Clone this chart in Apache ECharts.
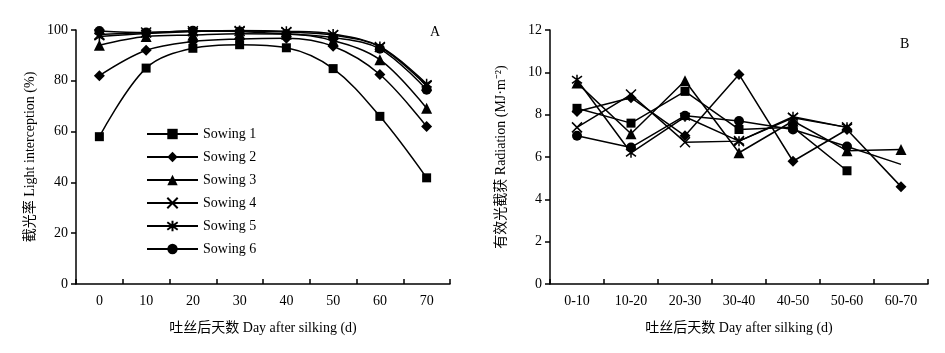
<!DOCTYPE html>
<html><head><meta charset="utf-8">
<script src="https://cdn.jsdelivr.net/npm/echarts@6/dist/echarts.min.js"></script>
<style>html,body{margin:0;padding:0;background:#fff}#c{width:945px;height:353px}</style>
</head><body><div id="c"></div>
<script>
const daysA = ['0','10','20','30','40','50','60','70'];
const periodsB = ['0-10','10-20','20-30','30-40','40-50','50-60','60-70'];
const seriesNames = ['Sowing 1','Sowing 2','Sowing 3','Sowing 4','Sowing 5','Sowing 6'];
// Panel A: light interception (%)
const intercept1 = [58, 85, 92.8, 94.2, 93, 84.8, 66, 41.8];
const intercept2 = [82, 92, 95.5, 96.5, 96.8, 93.6, 82.5, 62];
const intercept3 = [94, 97.4, 98, 98.5, 98.4, 95.8, 88.3, 69.2];
const intercept4 = [98.2, 99, 99.5, 99.6, 99.2, 98, 93.3, 78];
const intercept5 = [97.4, 98.6, 99.4, 99.8, 99.5, 98.4, 93.5, 78.8];
const intercept6 = [99.6, 99, 99.7, 99.4, 98.4, 97, 92.6, 76.5];
// Panel B: intercepted PAR (MJ·m-2)
const rad1 = [8.3, 7.6, 9.1, 7.3, 7.4, 5.35, null];
const rad2 = [8.15, 8.8, 7.0, 9.9, 5.8, 7.3, 4.6];
const rad3 = [9.5, 7.1, 9.6, 6.2, 7.7, 6.3, 6.35];
const rad4 = [7.4, 8.95, 6.7, 6.75, 7.85, 7.4, null];
const rad5 = [9.65, 6.2, 7.9, 6.75, 7.9, 7.4, null];
const rad6 = [7.0, 6.45, 7.95, 7.7, 7.3, 6.5, 5.65];
const yTicksA = [0,20,40,60,80,100];
const yTicksB = [0,2,4,6,8,10,12];

const FONT = '"Liberation Serif","Noto Sans CJK SC",serif';
const XSYM = 'path://M0,0L10,10M10,0L0,10';
const ASYM = 'path://M0,0L10,10M10,0L0,10M5,-2L5,12';
const symbols = [
  {symbol:'rect', size:9, stroke:false},
  {symbol:'diamond', size:11, stroke:false},
  {symbol:'triangle', size:11, stroke:false},
  {symbol:XSYM, size:10, stroke:true},
  {symbol:ASYM, size:10, stroke:true},
  {symbol:'circle', size:10, stroke:false}
];
const dataA = [intercept1,intercept2,intercept3,intercept4,intercept5,intercept6];
const dataB = [rad1,rad2,rad3,rad4,rad5,rad6];

function mk(i, data, grid, smooth){
  const s = symbols[i];
  return {
    name: seriesNames[i], type:'line', xAxisIndex:grid, yAxisIndex:grid,
    data: data, smooth: smooth, symbol: s.symbol, symbolSize: s.size,
    showAllSymbol: true, animation:false,
    lineStyle:{color:'#000', width:1.5},
    itemStyle: s.stroke ? {color:'#000', borderColor:'#000', borderWidth:1.5} : {color:'#000', borderWidth:0},
    emphasis:{disabled:true}
  };
}
const series = [];
for (let i=0;i<6;i++) series.push(mk(i, dataA[i], 0, 0.35));
for (let i=0;i<6;i++) {
  const d = dataB[i].map((v,j)=> (i===5 && j===6) ? {value:v, symbol:'none'} : v);
  series.push(mk(i, d, 1, false));
}

const axisCommon = {
  axisLine:{show:true, lineStyle:{color:'#000', width:1.5}},
  axisLabel:{color:'#000', fontFamily:FONT, fontSize:14},
  splitLine:{show:false},
  nameTextStyle:{color:'#000', fontFamily:FONT, fontSize:14}
};
function xAx(grid, cats){
  return Object.assign({}, axisCommon, {
    type:'category', gridIndex:grid, data:cats, boundaryGap:true,
    axisTick:{show:true, inside:true, length:5, alignWithLabel:false, lineStyle:{color:'#000', width:1.5}},
    axisLabel:Object.assign({}, axisCommon.axisLabel, {margin:10}),
    name:'吐丝后天数 Day after silking (d)', nameLocation:'middle', nameGap:37
  });
}
function yAx(grid, max, interval, name, gap){
  return Object.assign({}, axisCommon, {
    type:'value', gridIndex:grid, min:0, max:max, interval:interval,
    axisTick:{show:true, inside:false, length:5, lineStyle:{color:'#000', width:1.5}},
    axisLabel:Object.assign({}, axisCommon.axisLabel, {margin:8}),
    name:name, nameLocation:'middle', nameGap:gap, nameRotate:90
  });
}

const chart = echarts.init(document.getElementById('c'), null, {renderer:'canvas'});
chart.setOption({
  backgroundColor:'#fff',
  animation:false,
  grid:[
    {left:76, right:495, top:30, bottom:69},
    {left:550, right:17, top:30, bottom:69}
  ],
  xAxis:[xAx(0, daysA), xAx(1, periodsB)],
  yAxis:[
    yAx(0, yTicksA[yTicksA.length-1], 20, '截光率 Light interception (%)', 39),
    yAx(1, yTicksB[yTicksB.length-1], 2, '有效光截获 Radiation (MJ·m⁻²)', 42)
  ],
  legend:{
    data:seriesNames, orient:'vertical', left:141, top:122,
    itemWidth:51, itemHeight:13, itemGap:9,
    textStyle:{color:'#000', fontFamily:FONT, fontSize:14, lineHeight:14},
    selectedMode:false
  },
  graphic:[
    {type:'text', left:430, top:25, style:{text:'A', fill:'#000', font:'14px "Liberation Serif"'}},
    {type:'text', left:900, top:37, style:{text:'B', fill:'#000', font:'14px "Liberation Serif"'}}
  ],
  series:series
});
</script></body></html>
